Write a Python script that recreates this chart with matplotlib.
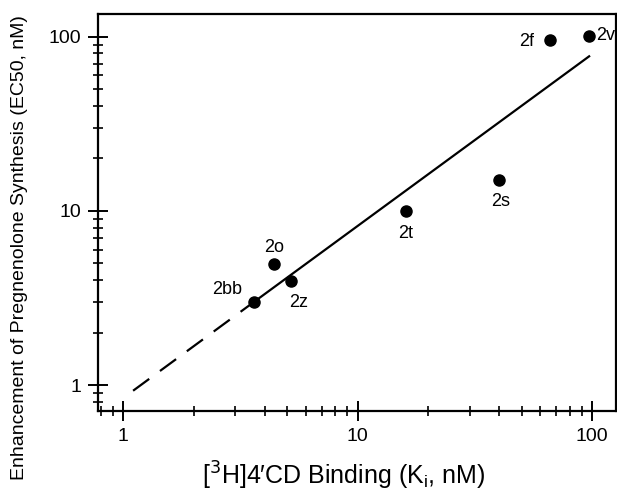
import matplotlib
matplotlib.use("Agg")
import matplotlib.pyplot as plt
from matplotlib.ticker import LogLocator, NullFormatter, FixedLocator, FixedFormatter

plt.rcParams['font.family'] = ['Liberation Sans', 'DejaVu Sans']

# compounds: binding Ki (nM) vs EC50 (nM)
names = ['2bb', '2o', '2z', '2t', '2s', '2f', '2v']
ki = [3.6, 4.4, 5.2, 16, 40, 66, 97]
ec50 = [3.0, 4.95, 3.95, 10, 15, 95, 101]
# label offsets (points) relative to each marker
label_dx = [-19, 0, 5, 0, 1, -17, 5]
label_dy = [9, 12, -15, -16, -15, -1, 0]
label_ha = ['center', 'center', 'center', 'center', 'center', 'center', 'left']

# regression line: dashed extrapolation then solid
fit_dash_x = [1.1, 3.6]
fit_dash_y = [0.93, 3.0]
fit_solid_x = [3.6, 97]
fit_solid_y = [3.0, 77]

fig = plt.figure(figsize=(6.17, 4.93), dpi=100)
ax = fig.add_axes([0.159, 0.166, 0.839, 0.806])

ax.plot(fit_dash_x, fit_dash_y, color='black', lw=1.6, dashes=(9, 6))
ax.plot(fit_solid_x, fit_solid_y, color='black', lw=1.6)
ax.plot(ki, ec50, 'o', color='black', ms=8, zorder=3)

for n, x, y, dx, dy, ha in zip(names, ki, ec50, label_dx, label_dy, label_ha):
    ax.annotate(n, (x, y), xytext=(dx, dy), textcoords='offset points',
                ha=ha, va='center', fontsize=13, annotation_clip=False,
                clip_on=True)

ax.set_xscale('log')
ax.set_yscale('log')
ax.set_xlim(0.78, 126)
ax.set_ylim(0.71, 135)

ax.xaxis.set_major_locator(FixedLocator([1, 10, 100]))
ax.xaxis.set_major_formatter(FixedFormatter(['1', '10', '100']))
ax.yaxis.set_major_locator(FixedLocator([1, 10, 100]))
ax.yaxis.set_major_formatter(FixedFormatter(['1', '10', '100']))
ax.xaxis.set_minor_locator(LogLocator(base=10, subs=range(2, 10)))
ax.yaxis.set_minor_locator(LogLocator(base=10, subs=range(2, 10)))
ax.xaxis.set_minor_formatter(NullFormatter())
ax.yaxis.set_minor_formatter(NullFormatter())

ax.tick_params(which='major', direction='inout', length=14, width=1.4,
               labelsize=14, pad=5)
ax.tick_params(which='minor', direction='inout', length=7, width=1.2)
ax.tick_params(top=False, right=False, which='both')

for s in ax.spines.values():
    s.set_linewidth(1.6)

ax.set_xlabel('[$^3$H]4\u2032CD Binding (K$_\\mathregular{i}$, nM)', fontsize=18)
ax.xaxis.set_label_coords(0.474, -0.122)
fig.text(0.031, 0.497, 'Enhancement of Pregnenolone Synthesis (EC50, nM)',
         rotation=90, ha='center', va='center', fontsize=14)

fig.savefig('out.png', dpi=100)
